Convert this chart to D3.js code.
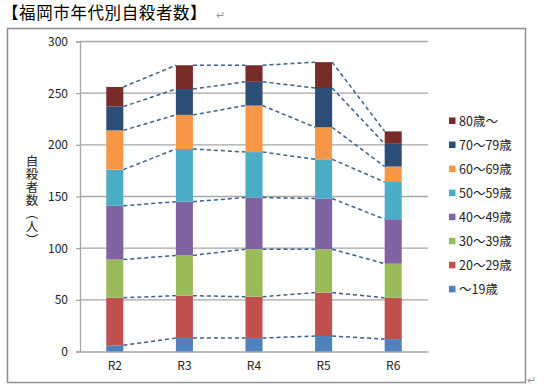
<!DOCTYPE html>
<html>
<head>
<meta charset="utf-8">
<script src="https://cdn.jsdelivr.net/npm/d3@7"></script>
<style>
  body { margin: 0; background: #fff; }
  text { font-family: "Noto Sans CJK JP", "Noto Sans", sans-serif; }
</style>
</head>
<body>
<div id="chart"></div>
<script>
// --> DATA
var categories = ["R2", "R3", "R4", "R5", "R6"];
var ageGroups = ["～19歳", "20～29歳", "30～39歳", "40～49歳", "50～59歳", "60～69歳", "70～79歳", "80歳～"];
var under19 = [6, 13, 13, 15, 12];
var age20s = [46, 41, 40, 42, 40];
var age30s = [37, 39, 46, 42, 33];
var age40s = [52, 52, 50, 49, 43];
var age50s = [35, 51, 44, 38, 36];
var age60s = [38, 33, 45, 31, 15];
var age70s = [23, 25, 23, 38, 22];
var over80 = [19, 23, 16, 25, 12];
var yTicks = [0, 50, 100, 150, 200, 250, 300];

var seriesValues = [under19, age20s, age30s, age40s, age50s, age60s, age70s, over80];
var colors = ["#4F81BD", "#C0504D", "#9BBB59", "#8064A2", "#4BACC6", "#F79646", "#2C4D75", "#772C2A"];

// rows for d3.stack
var rows = categories.map(function(c, i) {
    var r = { cat: c };
    ageGroups.forEach(function(g, j) { r[g] = seriesValues[j][i]; });
    return r;
});

// --> SVG
var width = 544, height = 391;
var svg = d3.select("#chart").append("svg")
    .attr("width", width)
    .attr("height", height);

// title (word document text)
svg.append("text")
    .attr("x", 2)
    .attr("y", 19)
    .style("font-size", "16.5px")
    .style("letter-spacing", "0.6px")
    .attr("fill", "#000")
    .text("【福岡市年代別自殺者数】");
svg.append("text")
    .attr("x", 216)
    .attr("y", 19)
    .style("font-size", "11px")
    .attr("fill", "#999")
    .text("↵");

// chart border
svg.append("rect")
    .attr("x", 7.5).attr("y", 28.5)
    .attr("width", 518).attr("height", 354)
    .attr("fill", "none")
    .attr("stroke", "#8c8c8c")
    .attr("stroke-width", 1.5);
svg.append("text")
    .attr("x", 527)
    .attr("y", 384)
    .style("font-size", "11px")
    .attr("fill", "#999")
    .text("↵");

var plot = { left: 80, right: 428, top: 41.5, bottom: 351.5 };

var x = d3.scaleBand()
    .domain(categories)
    .range([plot.left, plot.right])
    .padding(0);
var barW = x.bandwidth() * 0.245;

var y = d3.scaleLinear()
    .domain([0, 300])
    .range([plot.bottom, plot.top]);

// gridlines
svg.append("g")
    .selectAll("line")
    .data(yTicks.slice(1))
    .enter().append("line")
    .attr("x1", plot.left).attr("x2", plot.right)
    .attr("y1", function(d) { return y(d); })
    .attr("y2", function(d) { return y(d); })
    .attr("stroke", "#a6a6a6")
    .attr("stroke-width", 1.3);

// y axis
var yAxis = svg.append("g")
    .attr("transform", "translate(" + plot.left + ",0)")
    .call(d3.axisLeft(y).tickValues(yTicks).tickSize(4).tickPadding(8));
yAxis.select(".domain").attr("stroke", "#a6a6a6").attr("stroke-width", 1.3);
yAxis.selectAll(".tick line").attr("stroke", "#a6a6a6").attr("stroke-width", 1.3);
yAxis.selectAll(".tick text")
    .style("font-size", "12px")
    .style("font-family", "'Noto Sans CJK JP', sans-serif")
    .attr("fill", "#222");

// x axis
var xAxis = svg.append("g")
    .attr("transform", "translate(0," + plot.bottom + ")")
    .call(d3.axisBottom(x).tickSize(0).tickPadding(10));
xAxis.select(".domain").attr("stroke", "#a6a6a6").attr("stroke-width", 1.3);
xAxis.selectAll(".tick text")
    .style("font-size", "12px")
    .style("font-family", "'Noto Sans CJK JP', sans-serif")
    .attr("fill", "#222");

// y axis title (vertical)
svg.append("text")
    .attr("x", 32)
    .attr("y", 155)
    .style("writing-mode", "vertical-rl")
    .style("font-size", "12.5px")
    .style("letter-spacing", "0.6px")
    .attr("fill", "#222")
    .text("自殺者数（人）");

// stacked bars
var stack = d3.stack().keys(ageGroups);
var stacked = stack(rows);

function barLeft(cat) { return x(cat) + (x.bandwidth() - barW) / 2; }

// series lines (dashed, between bars)
stacked.forEach(function(layer) {
    var segs = [];
    for (var i = 0; i < layer.length - 1; i++) {
        segs.push({ a: layer[i], b: layer[i + 1] });
    }
    svg.append("g")
        .selectAll("line")
        .data(segs)
        .enter().append("line")
        .attr("x1", function(d) { return barLeft(d.a.data.cat) + barW; })
        .attr("y1", function(d) { return y(d.a[1]); })
        .attr("x2", function(d) { return barLeft(d.b.data.cat); })
        .attr("y2", function(d) { return y(d.b[1]); })
        .attr("stroke", "#3b5f8e")
        .attr("stroke-width", 1.5)
        .attr("stroke-dasharray", "4,3");
});

svg.append("g")
    .selectAll("g")
    .data(stacked)
    .enter().append("g")
    .attr("fill", function(d, i) { return colors[i]; })
    .selectAll("rect")
    .data(function(d) { return d; })
    .enter().append("rect")
    .attr("x", function(d) { return barLeft(d.data.cat); })
    .attr("y", function(d) { return y(d[1]); })
    .attr("width", barW)
    .attr("height", function(d) { return y(d[0]) - y(d[1]); });

// legend (reverse order)
var legendData = ageGroups.slice().reverse();
var legend = svg.selectAll(".legend")
    .data(legendData)
    .enter().append("g")
    .attr("class", "legend")
    .attr("transform", function(d, i) {
        return "translate(449," + (121 + i * 24.05) + ")";
    });
legend.append("rect")
    .attr("x", 0).attr("y", -3.5)
    .attr("width", 6.5).attr("height", 6.5)
    .attr("fill", function(d) { return colors[ageGroups.indexOf(d)]; });
legend.append("text")
    .attr("x", 10)
    .attr("y", 4.5)
    .style("font-size", "12.5px")
    .attr("fill", "#222")
    .text(function(d) { return d; });
</script>
</body>
</html>
